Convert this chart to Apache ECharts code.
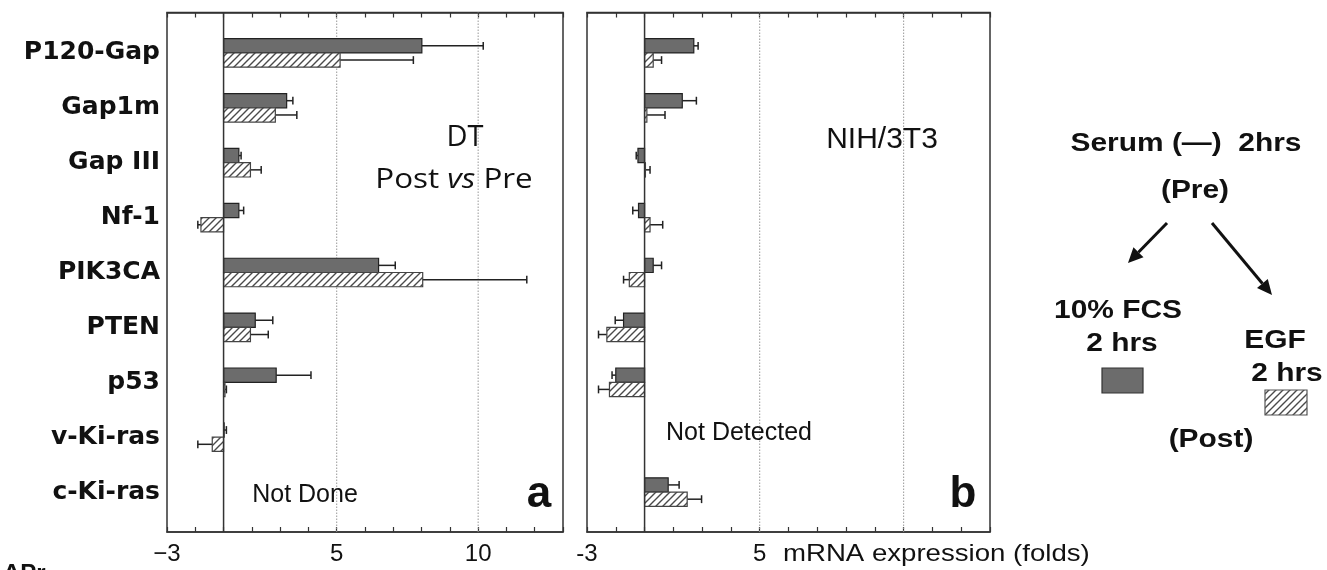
<!DOCTYPE html>
<html><head><meta charset="utf-8">
<script src="https://cdn.jsdelivr.net/npm/echarts@6/dist/echarts.min.js"></script>
<style>html,body{margin:0;padding:0;background:#fff}#c{width:1327px;height:570px}</style>
</head><body><div id="c"></div>
<script>
// ---------------- data ----------------
const categories = ['P120-Gap','Gap1m','Gap III','Nf-1','PIK3CA','PTEN','p53','v-Ki-ras','c-Ki-ras'];
const baseline = 1;            // fold = 1 (no change)
const axisMin = -1, axisMax = 13, axisStep = 1;
const gridValues = [5, 10];
// panel a : DT, Post vs Pre (null = Not Done)
const fcsA    = [8.01, 3.23, 1.54, 1.54, 6.48, 2.12, 2.86, 1.02, null];
const fcsAErr = [10.18, 3.45, 1.62, 1.71, 7.07, 2.74, 4.09, 1.10, null];
const egfA    = [5.12, 2.83, 1.95, 0.20, 8.04, 1.95, 1.05, 0.60, null];
const egfAErr = [7.71, 3.59, 2.33, 0.09, 11.72, 2.58, 1.10, 0.09, null];
// panel b : NIH/3T3 (null = Not Detected)
const fcsB    = [2.71, 2.31, 0.77, 0.79, 1.30, 0.27, 0.00, null, 1.82];
const fcsBErr = [2.86, 2.80, 0.71, 0.59, 1.59, -0.02, -0.13, null, 2.20];
const egfB    = [1.30, 1.08, 1.03, 1.19, 0.47, -0.31, -0.22, null, 2.48];
const egfBErr = [1.59, 1.71, 1.19, 1.63, 0.27, -0.60, -0.60, null, 2.98];
const tickLabelsA = {'-1': '\u22123', '5': '5', '10': '10'};
const tickLabelsB = {'-1': '-3', '5': '5'};

// ---------------- styles ----------------
const DARK = '#6c6c6c';
function makeHatch() {
  const c = document.createElement('canvas'); c.width = 7; c.height = 7;
  const g = c.getContext('2d');
  g.fillStyle = '#fff'; g.fillRect(0, 0, 7, 7);
  g.strokeStyle = '#4a4a4a'; g.lineWidth = 1.4;
  g.beginPath();
  g.moveTo(-1, 8); g.lineTo(8, -1);
  g.moveTo(-1, 1); g.lineTo(1, -1);
  g.moveTo(6, 8); g.lineTo(8, 6);
  g.stroke();
  return c;
}
const HATCH = {image: makeHatch(), repeat: 'repeat'};

const chart = echarts.init(document.getElementById('c'), null, {renderer: 'canvas'});

const PA = {left: 167, width: 396}, PB = {left: 587, width: 403};
const FT = 12.5, FH = 519.5, BT = 25.5, BH = 494;

function frameGrid(p) {
  return {left: p.left, width: p.width, top: FT, height: FH, show: true,
          borderColor: '#333', borderWidth: 1.5, backgroundColor: 'transparent'};
}
function barGrid(p) { return {left: p.left, width: p.width, top: BT, height: BH}; }

function valueAxis(gi, pos, labels) {
  return {
    type: 'value', gridIndex: gi, position: pos, min: axisMin, max: axisMax, interval: axisStep,
    axisLine: {show: true, lineStyle: {color: '#333', width: 1.5}},
    axisTick: {show: true, inside: true, length: 5, lineStyle: {color: '#333', width: 1.2}},
    splitLine: {show: false},
    axisLabel: labels ? {
      show: true, margin: 10, fontSize: 24, color: '#111', fontFamily: 'Liberation Sans',
      showMinLabel: true, showMaxLabel: true,
      formatter: v => (labels[String(v)] !== undefined ? labels[String(v)] : '')
    } : {show: false}
  };
}
function hiddenX(gi) { return {type: 'value', gridIndex: gi, min: axisMin, max: axisMax, show: false}; }

function barSeries(xi, yi, vals, errs, slot, fill, stroke) {
  const data = [];
  vals.forEach((v, i) => { if (v !== null) data.push([v, i, errs[i]]); });
  return {
    type: 'custom', xAxisIndex: xi, yAxisIndex: yi, z: 3, clip: false,
    encode: {x: [0, 2], y: 1},
    data: data,
    renderItem: function (params, api) {
      const v = api.value(0), i = api.value(1), e = api.value(2);
      const c0 = api.coord([baseline, i]);
      const cv = api.coord([v, i]);
      const ce = api.coord([e, i]);
      const band = api.size([0, 1])[1];
      const h = band * 0.26;
      const y0 = slot === 0 ? c0[1] - h : c0[1];
      const ym = y0 + h / 2;
      const cap = h * 0.55;
      return {type: 'group', children: [
        {type: 'line', shape: {x1: cv[0], y1: ym, x2: ce[0], y2: ym}, style: {stroke: '#222', lineWidth: 1.5}},
        {type: 'line', shape: {x1: ce[0], y1: ym - cap / 2, x2: ce[0], y2: ym + cap / 2}, style: {stroke: '#222', lineWidth: 1.5}},
        {type: 'rect', shape: {x: Math.min(c0[0], cv[0]), y: y0, width: Math.abs(cv[0] - c0[0]), height: h},
         style: {fill: fill, stroke: stroke, lineWidth: 1.2}}
      ]};
    }
  };
}

function vLines(xi, yi, values, dotted, z) {
  return {
    type: 'custom', xAxisIndex: xi, yAxisIndex: yi, z: z, clip: false, silent: true,
    encode: {x: 0},
    data: values.map(v => [v]),
    renderItem: function (params, api) {
      const a = api.coord([api.value(0), 0]);
      const b = api.coord([api.value(0), 1]);
      return {type: 'line', shape: {x1: a[0], y1: a[1], x2: b[0], y2: b[1]},
        style: dotted ? {stroke: '#999', lineWidth: 1, lineDash: [1.5, 1.5]} : {stroke: '#333', lineWidth: 1.5}};
    }
  };
}

function txt(x, y, text, font, opts) {
  opts = opts || {};
  return {type: 'text', x: x, y: y, scaleX: opts.sx || 1, z: 10,
    style: {text: text, font: font, fill: opts.fill || '#111', textAlign: opts.align || 'center',
            textVerticalAlign: opts.va || 'middle', rich: opts.rich}};
}
function arrow(x1, y1, x2, y2) {
  const ang = Math.atan2(y2 - y1, x2 - x1), L = 15, W = 7;
  const bx = x2 - L * Math.cos(ang), by = y2 - L * Math.sin(ang);
  const px = -Math.sin(ang) * W, py = Math.cos(ang) * W;
  return {type: 'group', z: 10, children: [
    {type: 'line', shape: {x1: x1, y1: y1, x2: bx, y2: by}, style: {stroke: '#111', lineWidth: 3}},
    {type: 'polygon', shape: {points: [[x2, y2], [bx + px, by + py], [bx - px, by - py]]}, style: {fill: '#111'}}
  ]};
}

const BOLD = 'bold 26px "Liberation Sans", Arial, sans-serif';
const option = {
  backgroundColor: '#fff',
  animation: false,
  grid: [frameGrid(PA), barGrid(PA), frameGrid(PB), barGrid(PB)],
  xAxis: [
    valueAxis(0, 'bottom', tickLabelsA), valueAxis(0, 'top', null), hiddenX(1),
    valueAxis(2, 'bottom', tickLabelsB), valueAxis(2, 'top', null), hiddenX(3)
  ],
  yAxis: [
    {type: 'value', gridIndex: 0, min: 0, max: 1, show: false},
    {type: 'category', gridIndex: 1, inverse: true, data: categories,
     axisLine: {show: false}, axisTick: {show: false},
     axisLabel: {margin: 7, fontSize: 25, fontWeight: 'bold', color: '#111', fontFamily: 'DejaVu Sans',
                 padding: [0, 0, 8, 0]}},
    {type: 'value', gridIndex: 2, min: 0, max: 1, show: false},
    {type: 'category', gridIndex: 3, inverse: true, data: categories, show: false}
  ],
  series: [
    vLines(0, 0, gridValues, true, 1),
    vLines(3, 2, gridValues, true, 1),
    barSeries(2, 1, fcsA, fcsAErr, 0, DARK, '#222'),
    barSeries(2, 1, egfA, egfAErr, 1, HATCH, '#444'),
    barSeries(5, 3, fcsB, fcsBErr, 0, DARK, '#222'),
    barSeries(5, 3, egfB, egfBErr, 1, HATCH, '#444'),
    vLines(0, 0, [baseline], false, 5),
    vLines(3, 2, [baseline], false, 5)
  ],
  graphic: [
    txt(465, 138, 'DT', '29px "Open Sans", sans-serif'),
    txt(454, 180, '{n|Post }{i|vs}{n| Pre}', '28px "Open Sans", sans-serif', {sx: 1.12,
      rich: {n: {font: '28px "Open Sans", sans-serif', fill: '#111'},
             i: {font: 'italic 28px "Open Sans", sans-serif', fill: '#111'}}}),
    txt(305, 495, 'Not Done', '25px "Liberation Sans", Arial, sans-serif'),
    txt(539, 495, 'a', 'bold 44px "Liberation Sans", Arial, sans-serif'),
    txt(882, 140, 'NIH/3T3', '30px "Liberation Sans", Arial, sans-serif'),
    txt(739, 433, 'Not Detected', '25px "Liberation Sans", Arial, sans-serif'),
    txt(963, 495, 'b', 'bold 44px "Liberation Sans", Arial, sans-serif'),
    txt(783, 554, 'mRNA expression (folds)', '24px "Liberation Sans", Arial, sans-serif', {align: 'left', sx: 1.15}),
    txt(1186, 144, 'Serum (\u2014)  2hrs', BOLD, {sx: 1.15}),
    txt(1195, 191, '(Pre)', BOLD, {sx: 1.15}),
    arrow(1167, 223, 1128, 263),
    arrow(1212, 223, 1272, 295),
    txt(1118, 311, '10% FCS', BOLD, {sx: 1.15}),
    txt(1122, 344, '2 hrs', BOLD, {sx: 1.15}),
    {type: 'rect', z: 10, shape: {x: 1102, y: 368, width: 41, height: 25}, style: {fill: DARK, stroke: '#333', lineWidth: 1.2}},
    txt(1275, 341, 'EGF', BOLD, {sx: 1.15}),
    txt(1287, 374, '2 hrs', BOLD, {sx: 1.15}),
    {type: 'rect', z: 10, shape: {x: 1265, y: 390, width: 42, height: 25}, style: {fill: HATCH, stroke: '#555', lineWidth: 1.2}},
    txt(1211, 440, '(Post)', BOLD, {sx: 1.15}),
    txt(3, 586, '\u0394Pr', 'bold 24px "Liberation Sans", Arial, sans-serif', {align: 'left', va: 'bottom'})
  ]
};
chart.setOption(option);
</script></body></html>
